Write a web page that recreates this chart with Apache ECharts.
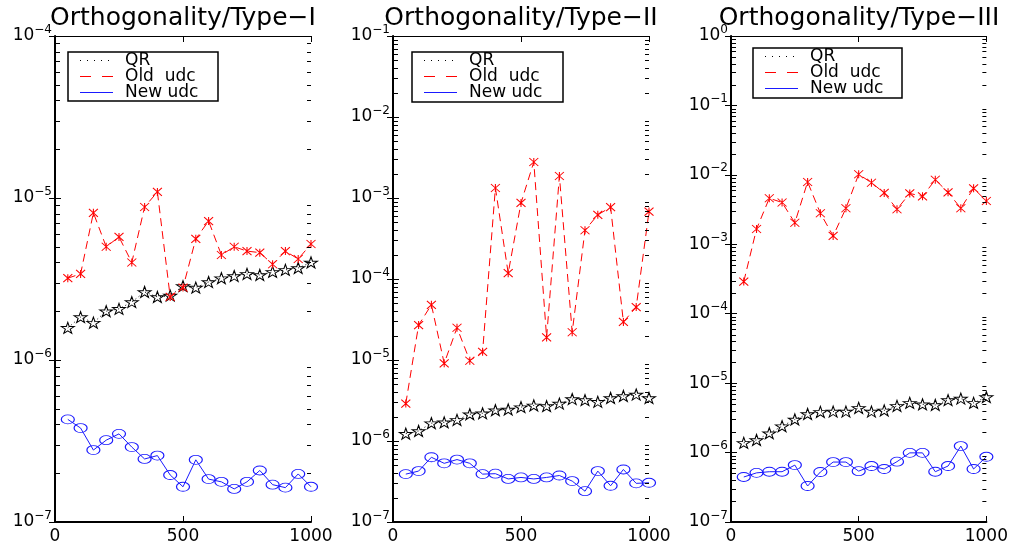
<!DOCTYPE html>
<html>
<head>
<meta charset="utf-8">
<script src="https://cdn.jsdelivr.net/npm/echarts@6/dist/echarts.min.js"></script>
<style>
  html, body { margin: 0; padding: 0; background: #fff; }
  #main { width: 1011px; height: 548px; }
</style>
</head>
<body>
<div id="main"></div>
<script>
// matrix sizes (x axis)
const sizes = [50, 100, 150, 200, 250, 300, 350, 400, 450, 500,
               550, 600, 650, 700, 750, 800, 850, 900, 950, 1000];

// Type-I
const qr1 = [1.58e-6, 1.84e-6, 1.70e-6, 2.0e-6, 2.07e-6, 2.28e-6, 2.63e-6, 2.45e-6, 2.5e-6, 2.86e-6,
             2.8e-6, 3.03e-6, 3.2e-6, 3.3e-6, 3.4e-6, 3.35e-6, 3.5e-6, 3.6e-6, 3.7e-6, 4.0e-6];
const old1 = [3.2e-6, 3.4e-6, 8.1e-6, 5.0e-6, 5.75e-6, 4.0e-6, 8.8e-6, 1.09e-5, 2.45e-6, 2.8e-6,
              5.6e-6, 7.2e-6, 4.45e-6, 5.0e-6, 4.7e-6, 4.6e-6, 3.9e-6, 4.7e-6, 4.2e-6, 5.2e-6];
const new1 = [4.3e-7, 3.8e-7, 2.78e-7, 3.2e-7, 3.5e-7, 2.9e-7, 2.45e-7, 2.57e-7, 1.95e-7, 1.65e-7,
              2.42e-7, 1.84e-7, 1.77e-7, 1.6e-7, 1.77e-7, 2.08e-7, 1.7e-7, 1.63e-7, 1.98e-7, 1.65e-7];

// Type-II
const qr2 = [1.23e-6, 1.33e-6, 1.66e-6, 1.7e-6, 1.82e-6, 2.14e-6, 2.2e-6, 2.4e-6, 2.45e-6, 2.62e-6,
             2.75e-6, 2.7e-6, 2.9e-6, 3.3e-6, 3.2e-6, 3.05e-6, 3.4e-6, 3.6e-6, 3.75e-6, 3.4e-6];
const old2 = [2.9e-6, 2.7e-5, 4.8e-5, 9.1e-6, 2.5e-5, 9.8e-6, 1.26e-5, 1.33e-3, 1.18e-4, 8.7e-4,
              2.78e-3, 1.9e-5, 1.87e-3, 2.2e-5, 4.0e-4, 6.2e-4, 7.7e-4, 2.95e-5, 4.5e-5, 6.8e-4];
const new2 = [3.9e-7, 4.25e-7, 6.3e-7, 5.3e-7, 5.9e-7, 5.3e-7, 3.9e-7, 3.95e-7, 3.4e-7, 3.55e-7,
              3.4e-7, 3.55e-7, 3.75e-7, 3.2e-7, 2.4e-7, 4.25e-7, 2.8e-7, 4.45e-7, 3.0e-7, 3.05e-7];

// Type-III
const qr3 = [1.38e-6, 1.52e-6, 1.9e-6, 2.4e-6, 3.0e-6, 3.6e-6, 3.85e-6, 3.9e-6, 3.9e-6, 4.4e-6,
             3.9e-6, 4.05e-6, 4.7e-6, 5.2e-6, 4.95e-6, 4.85e-6, 5.7e-6, 6.0e-6, 5.2e-6, 6.3e-6];
const old3 = [2.9e-4, 1.66e-3, 4.6e-3, 4.0e-3, 2.04e-3, 7.9e-3, 2.8e-3, 1.32e-3, 3.3e-3, 1.02e-2,
              7.7e-3, 5.5e-3, 3.2e-3, 5.4e-3, 4.9e-3, 8.5e-3, 5.6e-3, 3.3e-3, 6.4e-3, 4.2e-3];
const new3 = [4.45e-7, 5.1e-7, 5.3e-7, 5.3e-7, 6.6e-7, 3.3e-7, 5.25e-7, 7.3e-7, 7.3e-7, 5.4e-7,
              6.4e-7, 5.8e-7, 7.4e-7, 9.9e-7, 9.9e-7, 5.3e-7, 6.4e-7, 1.24e-6, 5.8e-7, 8.7e-7];

const titles = ["Orthogonality/Type\u2212I", "Orthogonality/Type\u2212II", "Orthogonality/Type\u2212III"];
const legendNames = ["QR", "Old  udc", "New udc"];
const yMinExp = [-7, -7, -7];
const yMaxExp = [-4, -1, 0];

const panels = [
  { qr: qr1, old: old1, nu: new1 },
  { qr: qr2, old: old2, nu: new2 },
  { qr: qr3, old: old3, nu: new3 },
];

// layout
const gridLeft = [55, 393, 731];
const gridW = 256, gridTop = 36, gridH = 486;
const legendBox = [
  { x: 68, y: 52, w: 150, h: 49 },
  { x: 412, y: 52, w: 151, h: 50 },
  { x: 753, y: 48, w: 149, h: 50 },
];

const FONT = '"DejaVu Sans", "Liberation Sans", sans-serif';
const RED = '#ff0000', BLUE = '#1a1aff';
const STAR = 'path://M50,0 L61,35 L98,35 L68,57 L79,91 L50,70 L21,91 L32,57 L2,35 L39,35 Z';
const CROSS = 'path://M0,0 L10,10 M10,0 L0,10 M5,0 L5,10';

const pair = (vals) => sizes.map((x, i) => [x, vals[i]]);

// minor log ticks 2..9 in every decade, one item per side of the box
function minorValues(lo, hi) {
  const out = [];
  for (let e = lo; e < hi; e++) {
    for (let m = 2; m <= 9; m++) {
      out.push([0, m * Math.pow(10, e)]);
      out.push([1000, m * Math.pow(10, e)]);
    }
  }
  return out;
}

function supLabel(v) {
  const e = Math.round(Math.log10(v));
  const s = e < 0 ? '\u2212' + (-e) : String(e);
  return '{b|10}{s|' + s + '}';
}

const grid = [], xAxis = [], yAxis = [], series = [], title = [], graphic = [];

panels.forEach((p, i) => {
  grid.push({ left: gridLeft[i], top: gridTop, width: gridW, height: gridH });
  title.push({
    text: titles[i], left: gridLeft[i] + gridW / 2, top: 6, textAlign: 'center', padding: 0,
    textStyle: { fontFamily: FONT, fontSize: 25, fontWeight: 'normal', color: '#000' },
  });

  // bottom and top x axes
  xAxis.push({
    gridIndex: i, type: 'value', min: 0, max: 1000, interval: 500, position: 'bottom',
    axisLine: { lineStyle: { color: '#000', width: 2 } },
    axisTick: { inside: true, length: 6, lineStyle: { color: '#000' } },
    axisLabel: { color: '#000', fontFamily: FONT, fontSize: 17, margin: 6, formatter: (v) => String(v) },
    splitLine: { show: false },
  });
  xAxis.push({
    gridIndex: i, type: 'value', min: 0, max: 1000, interval: 500, position: 'top',
    axisLine: { lineStyle: { color: '#000', width: 1 } },
    axisTick: { inside: true, length: 6, lineStyle: { color: '#000' } },
    axisLabel: { show: false }, splitLine: { show: false },
  });

  const ymin = Math.pow(10, yMinExp[i]), ymax = Math.pow(10, yMaxExp[i]);
  yAxis.push({
    gridIndex: i, type: 'log', logBase: 10, min: ymin, max: ymax, position: 'left',
    axisLine: { lineStyle: { color: '#000', width: 2 } },
    axisTick: { inside: true, length: 6, lineStyle: { color: '#000' } },
    axisLabel: {
      margin: 3, formatter: supLabel,
      rich: {
        b: { fontFamily: FONT, fontSize: 17, color: '#000' },
        s: { fontFamily: FONT, fontSize: 12, color: '#000', padding: [0, 0, 13, 0] },
      },
    },
    splitLine: { show: false },
  });
  yAxis.push({
    gridIndex: i, type: 'log', logBase: 10, min: ymin, max: ymax, position: 'right',
    axisLine: { lineStyle: { color: '#000', width: 1 } },
    axisTick: { inside: true, length: 6, lineStyle: { color: '#000' } },
    axisLabel: { show: false }, splitLine: { show: false },
  });

  const xi = i * 2, yi = i * 2;
  series.push({
    name: 'QR', type: 'line', xAxisIndex: xi, yAxisIndex: yi, data: pair(p.qr),
    symbol: STAR, symbolSize: [13, 11], showAllSymbol: true,
    lineStyle: { color: '#000', width: 1, type: [1, 3] },
    itemStyle: { color: 'rgba(0,0,0,0)', borderColor: '#000', borderWidth: 1 },
    animation: false, z: 3,
  });
  series.push({
    name: 'Old  udc', type: 'line', xAxisIndex: xi, yAxisIndex: yi, data: pair(p.old),
    symbol: CROSS, symbolSize: [9, 8], showAllSymbol: true,
    lineStyle: { color: RED, width: 1, type: [8, 5] },
    itemStyle: { color: RED, borderColor: RED, borderWidth: 1 },
    animation: false, z: 4,
  });
  series.push({
    name: 'New udc', type: 'line', xAxisIndex: xi, yAxisIndex: yi, data: pair(p.nu),
    symbol: 'circle', symbolSize: [13, 9], showAllSymbol: true,
    lineStyle: { color: BLUE, width: 1 },
    itemStyle: { color: 'rgba(0,0,0,0)', borderColor: BLUE, borderWidth: 1 },
    animation: false, z: 5,
  });
  series.push({
    type: 'custom', xAxisIndex: xi, yAxisIndex: yi, animation: false, z: 10,
    clip: false,
    data: minorValues(yMinExp[i], yMaxExp[i]),
    renderItem: (params, api) => {
      const pt = api.coord([api.value(0), api.value(1)]);
      const left = api.value(0) === 0;
      const y = Math.round(pt[1]) + 0.5;
      const x0 = left ? pt[0] + 1 : pt[0];
      return {
        type: 'line',
        shape: { x1: x0, y1: y, x2: x0 + (left ? 4 : -4), y2: y },
        style: { stroke: '#000', lineWidth: 1 },
      };
    },
  });

  // legend box
  const b = legendBox[i];
  const rowY = [b.y + 8.5, b.y + 24.5, b.y + 40.5];
  const lx = b.x + 12, lw = 33, tx = b.x + 57;
  const children = [
    { type: 'rect', shape: { x: b.x, y: b.y, width: b.w, height: b.h },
      style: { fill: '#fff', stroke: '#000', lineWidth: 1.5 } },
    { type: 'line', shape: { x1: lx, y1: rowY[0], x2: lx + lw, y2: rowY[0] },
      style: { stroke: '#000', lineWidth: 1, lineDash: [1, 6] } },
    { type: 'line', shape: { x1: lx, y1: rowY[1], x2: lx + lw, y2: rowY[1] },
      style: { stroke: RED, lineWidth: 1, lineDash: [11, 11] } },
    { type: 'line', shape: { x1: lx, y1: rowY[2], x2: lx + lw, y2: rowY[2] },
      style: { stroke: BLUE, lineWidth: 1 } },
  ];
  legendNames.forEach((n, k) => {
    children.push({ type: 'text', x: tx, y: rowY[k],
      style: { text: n, fill: '#000', font: '17px ' + FONT, verticalAlign: 'middle' } });
  });
  graphic.push({ type: 'group', z: 100, children });
});

const chart = echarts.init(document.getElementById('main'), null, { renderer: 'canvas' });
chart.setOption({
  backgroundColor: '#fff',
  animation: false,
  title, grid, xAxis, yAxis, series, graphic,
});
</script>
</body>
</html>
